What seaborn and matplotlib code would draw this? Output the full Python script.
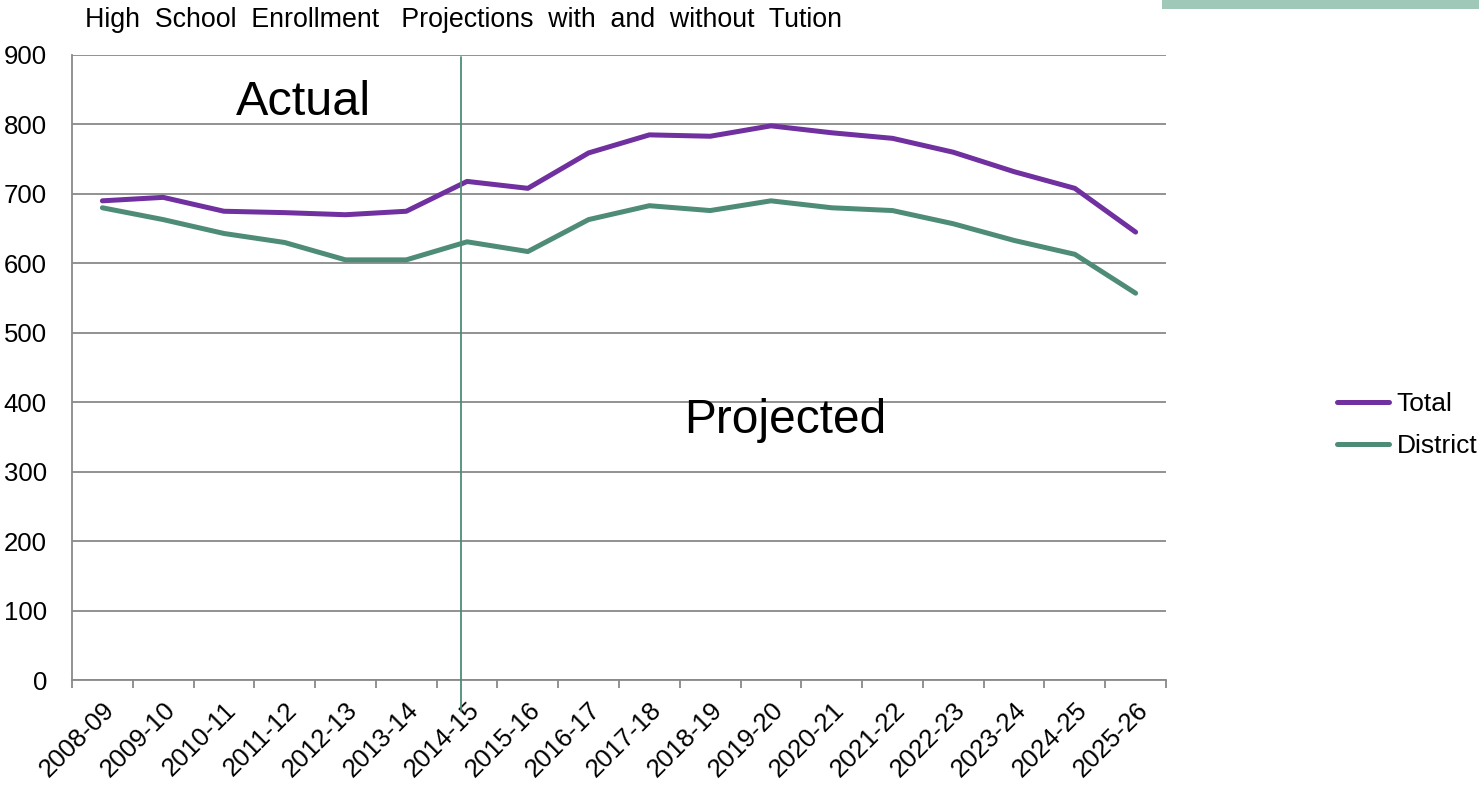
import matplotlib
matplotlib.use("Agg")
import matplotlib.pyplot as plt
import matplotlib.patches as mpatches
from matplotlib.ticker import FixedLocator
import seaborn as sns
import pandas as pd
import numpy as np

years = ["2008-09", "2009-10", "2010-11", "2011-12", "2012-13", "2013-14",
         "2014-15", "2015-16", "2016-17", "2017-18", "2018-19", "2019-20",
         "2020-21", "2021-22", "2022-23", "2023-24", "2024-25", "2025-26"]
total = [690, 695, 675, 673, 670, 675, 718, 708, 759, 785, 783, 798,
         788, 780, 760, 732, 708, 645]
district = [680, 663, 643, 630, 605, 605, 631, 617, 663, 683, 676, 690,
            680, 676, 657, 633, 613, 557]
series_names = ["Total", "District"]
colors = {"Total": "#7030A0", "District": "#4E8C78"}

title = "High  School  Enrollment   Projections  with  and  without  Tution"

sns.set_theme(style="white")
plt.rcParams['font.family'] = ['Liberation Sans', 'DejaVu Sans']
plt.rcParams['text.color'] = 'black'
plt.rcParams['xtick.labelcolor'] = 'black'
plt.rcParams['ytick.labelcolor'] = 'black'

df = pd.DataFrame({
    "Year": years * 2,
    "x": list(range(len(years))) * 2,
    "Enrollment": total + district,
    "Series": ["Total"] * len(years) + ["District"] * len(years),
})

fig = plt.figure(figsize=(14.79, 7.89), dpi=100)
ax = fig.add_axes([72/1479, 1 - 680/789, (1166-72)/1479, (680-55)/789])

sns.lineplot(data=df, x="x", y="Enrollment", hue="Series", hue_order=series_names,
             palette=colors, linewidth=3.6, ax=ax, legend=False, sort=False)

ax.set_xlim(-0.5, len(years) - 0.5)
ax.set_ylim(0, 900)
ax.set_yticks(np.arange(0, 901, 100))
ax.set_xticks(range(len(years)))
ax.set_xticklabels(years, rotation=45, ha="right", rotation_mode="anchor")
ax.xaxis.set_minor_locator(FixedLocator(np.arange(-0.5, len(years), 1)))
ax.tick_params(axis="x", which="major", length=0, pad=13, labelsize=18.5, labelcolor="black")
ax.tick_params(axis="x", which="minor", length=6, width=1.3, color="#898989", bottom=True)
ax.tick_params(axis="y", which="major", length=7, width=1.3, color="#898989",
               labelsize=18.5, pad=11, labelcolor="black")
ax.set_xlabel("")
ax.set_ylabel("")
ax.grid(axis="y", color="#898989", linewidth=1.3)
ax.set_axisbelow(True)
for s in ["top", "right"]:
    ax.spines[s].set_visible(False)
for s in ["left", "bottom"]:
    ax.spines[s].set_color("#898989")
    ax.spines[s].set_linewidth(1.3)

# divider between actual and projected
ax.plot([5.9, 5.9], [1.0 - 0.003, -0.05], transform=ax.get_xaxis_transform(),
        color="#4E8C78", linewidth=1.3, clip_on=False, zorder=3)

ax.text(3.31, 832, "Actual", fontsize=35, ha="center", va="center", color="black")
ax.text(11.24, 373, "Projected", fontsize=34.5, ha="center", va="center", color="black")

fig.text(85/1479, 1 - 20/789, title, fontsize=19.3, ha="left", va="center", color="black")

# legend
handles = [plt.Line2D([], [], color=colors[n], linewidth=3.6) for n in series_names]
fig.legend(handles, series_names, loc="center left",
           bbox_to_anchor=(1313/1479, 1 - 425/789), frameon=False, fontsize=19,
           handlelength=1.97, handletextpad=0.3, labelspacing=0.7, labelcolor="black")

# top-right accent bar
fig.patches.append(mpatches.Rectangle((1162/1479, 1 - 9/789), (1479-1162)/1479, 9/789,
                                      transform=fig.transFigure, color="#9FC8B8",
                                      linewidth=0))

fig.savefig("out.png", dpi=100)
